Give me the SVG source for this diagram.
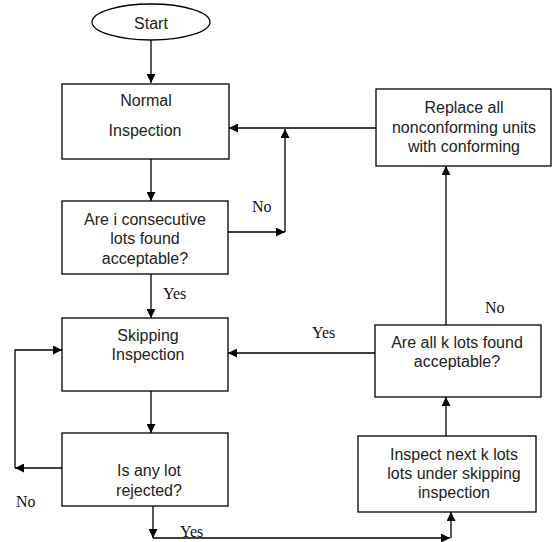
<svg xmlns="http://www.w3.org/2000/svg" width="552" height="542" viewBox="0 0 552 542">
<defs>
<marker id="ah" viewBox="0 0 10 10" refX="10" refY="5" markerWidth="10" markerHeight="9" markerUnits="userSpaceOnUse" orient="auto">
<path d="M0,0 L10,5 L0,10 Z" fill="#000"/>
</marker>
</defs>
<style>
.box{fill:#fff;stroke:#000;stroke-width:1.3}
.t{font-family:"Liberation Sans",Arial,sans-serif;font-size:16px;fill:#222;text-anchor:middle}
.l{font-family:"Liberation Serif","Times New Roman",serif;font-size:16px;fill:#111}
.c{fill:none;stroke:#000;stroke-width:1.3}
</style>
<rect width="552" height="542" fill="#fff"/>
<g id="connectors">
<path class="c" d="M151,40 V83" marker-end="url(#ah)"/>
<path class="c" d="M151,159 V201" marker-end="url(#ah)"/>
<path class="c" d="M228,232 H285" marker-end="url(#ah)"/>
<path class="c" d="M285,232 V129" marker-end="url(#ah)"/>
<path class="c" d="M376,128 H229" marker-end="url(#ah)"/>
<path class="c" d="M151,274 V318" marker-end="url(#ah)"/>
<path class="c" d="M375,353 H228" marker-end="url(#ah)"/>
<path class="c" d="M446,325 V166" marker-end="url(#ah)"/>
<path class="c" d="M151,391 V433" marker-end="url(#ah)"/>
<path class="c" d="M62,468 H15" marker-end="url(#ah)"/>
<path class="c" d="M15,468 V350 H62" marker-end="url(#ah)"/>
<path class="c" d="M153,506 V538" marker-end="url(#ah)"/>
<path class="c" d="M153,538 H450" marker-end="url(#ah)"/>
<path class="c" d="M451,538 V512" marker-end="url(#ah)"/>
<path class="c" d="M446,436 V397" marker-end="url(#ah)"/>
<text class="l" x="252" y="212">No</text>
<text class="l" x="163" y="299">Yes</text>
<text class="l" x="485" y="313">No</text>
<text class="l" x="312" y="338">Yes</text>
<text class="l" x="16" y="507">No</text>
<text class="l" x="180" y="537">Yes</text>
</g>
<g id="start">
<ellipse cx="151" cy="22" rx="59" ry="18" fill="#fff" stroke="#000" stroke-width="1.3"/>
<text class="t" x="151" y="29">Start</text>
</g>
<g id="normal">
<rect class="box" x="62" y="84" width="167" height="75"/>
<text class="t" x="146" y="106">Normal</text>
<text class="t" x="145" y="136">Inspection</text>
</g>
<g id="consecutive">
<rect class="box" x="62" y="201" width="166" height="73"/>
<text class="t" x="145" y="225">Are i consecutive</text>
<text class="t" x="145" y="244">lots found</text>
<text class="t" x="145" y="264">acceptable?</text>
</g>
<g id="skipping">
<rect class="box" x="62" y="318" width="166" height="73"/>
<text class="t" x="148" y="341">Skipping</text>
<text class="t" x="148" y="360">Inspection</text>
</g>
<g id="rejected">
<rect class="box" x="62" y="433" width="166" height="73"/>
<text class="t" x="149" y="476">Is any lot</text>
<text class="t" x="149" y="496">rejected?</text>
</g>
<g id="replace">
<rect class="box" x="376" y="89" width="175" height="77"/>
<text class="t" x="464" y="113">Replace all</text>
<text class="t" x="464" y="133">nonconforming units</text>
<text class="t" x="464" y="152">with conforming</text>
</g>
<g id="allk">
<rect class="box" x="375" y="325" width="166" height="72"/>
<text class="t" x="457" y="348">Are all k lots found</text>
<text class="t" x="457" y="367">acceptable?</text>
</g>
<g id="inspectnext">
<rect class="box" x="358" y="436" width="178" height="76"/>
<text class="t" x="454" y="460">Inspect next k lots</text>
<text class="t" x="454" y="479">lots under skipping</text>
<text class="t" x="454" y="498">inspection</text>
</g>
</svg>
